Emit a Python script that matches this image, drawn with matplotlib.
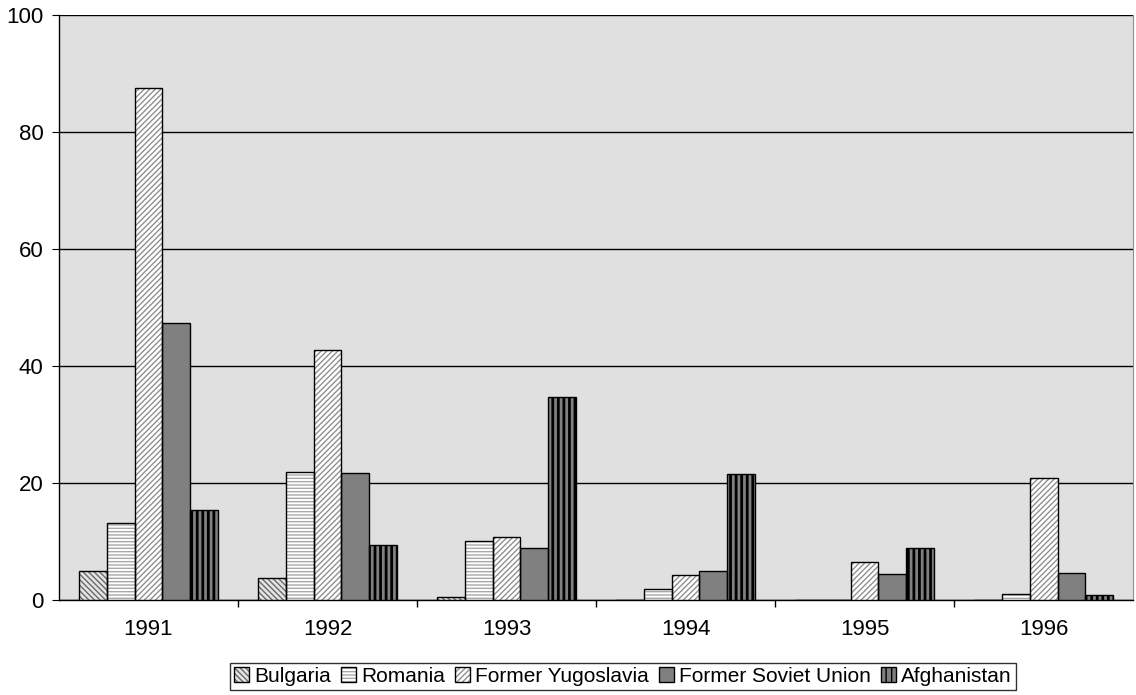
import matplotlib
matplotlib.use("Agg")
import matplotlib.pyplot as plt
from matplotlib.legend_handler import HandlerTuple
import numpy as np

plt.rcParams['font.family'] = ['Liberation Sans', 'DejaVu Sans']
plt.rcParams['hatch.linewidth'] = 1.0

# Data
years = ['1991', '1992', '1993', '1994', '1995', '1996']
countries = ['Bulgaria', 'Romania', 'Former Yugoslavia', 'Former Soviet Union', 'Afghanistan']
bulgaria = [5.0, 3.8, 0.5, 0.0, 0.0, 0.0]
romania = [13.2, 21.9, 10.1, 1.8, 0.0, 1.0]
yugoslavia = [87.5, 42.7, 10.8, 4.3, 6.5, 20.8]
soviet = [47.3, 21.7, 8.9, 5.0, 4.4, 4.6]
afghanistan = [15.4, 9.4, 34.7, 21.5, 8.9, 0.8]
series = [bulgaria, romania, yugoslavia, soviet, afghanistan]

# (face colour, hatch, hatch colour, hatch width)
styles = [
    ('#e4e4e4', '\\\\\\\\\\\\', '#6a6a6a', 1.0),
    ('#ffffff', '-----', '#a8a8a8', 1.0),
    ('#ffffff', '//////', '#909090', 1.0),
    ('#808080', '', '#808080', 1.0),
    ('#808080', '|||', '#000000', 2.0),
]

fig = plt.figure(figsize=(11.36, 6.95), dpi=100)
ax = fig.add_axes([0.0519, 0.1367, 0.9455, 0.8417])
ax.set_facecolor('#e0e0e0')

x = np.arange(len(years))
width = 0.156
handles = []
for i, (vals, (fc, hatch, hc, hlw)) in enumerate(zip(series, styles)):
    pos = x + (i - 2) * width
    with plt.rc_context({'hatch.linewidth': hlw}):
        fill = ax.bar(pos, vals, width, color=fc, hatch=hatch, edgecolor=hc,
                      linewidth=0, zorder=3)
    for p in fill:
        if hasattr(p, 'set_hatch_linewidth'):
            p.set_hatch_linewidth(hlw)
    outline = ax.bar(pos, vals, width, fill=False, edgecolor='black',
                     linewidth=1.0, zorder=4)
    handles.append((fill, outline))

ax.set_xlim(-0.5, len(years) - 0.5)
ax.set_ylim(0, 100)
ax.set_yticks([0, 20, 40, 60, 80, 100])
ax.yaxis.grid(True, color='black', linewidth=1.0, zorder=1)
ax.set_axisbelow(True)

ax.set_xticks(x)
ax.set_xticklabels(years)
ax.set_xticks(np.arange(0.5, len(years) - 0.5, 1.0), minor=True)
ax.tick_params(axis='x', which='major', length=0, pad=14, labelsize=16)
ax.tick_params(axis='x', which='minor', length=5, direction='out', width=1)
ax.tick_params(axis='y', length=5, direction='out', labelsize=16, pad=6)

ax.spines['top'].set_visible(False)
ax.spines['right'].set_color('#909090')
ax.spines['left'].set_linewidth(1.0)
ax.spines['bottom'].set_linewidth(1.0)

leg = fig.legend(handles, countries, handler_map={tuple: HandlerTuple(ndivide=1)},
                 loc='center right', bbox_to_anchor=(1016 / 1136, 0.0266), ncol=5,
                 frameon=True, fancybox=False, edgecolor='black', fontsize=15,
                 handlelength=0.7, handleheight=0.7, handletextpad=0.25,
                 columnspacing=0.5, borderpad=0.2, borderaxespad=0)
leg.get_frame().set_linewidth(1.0)

fig.savefig('out.png', dpi=100)
